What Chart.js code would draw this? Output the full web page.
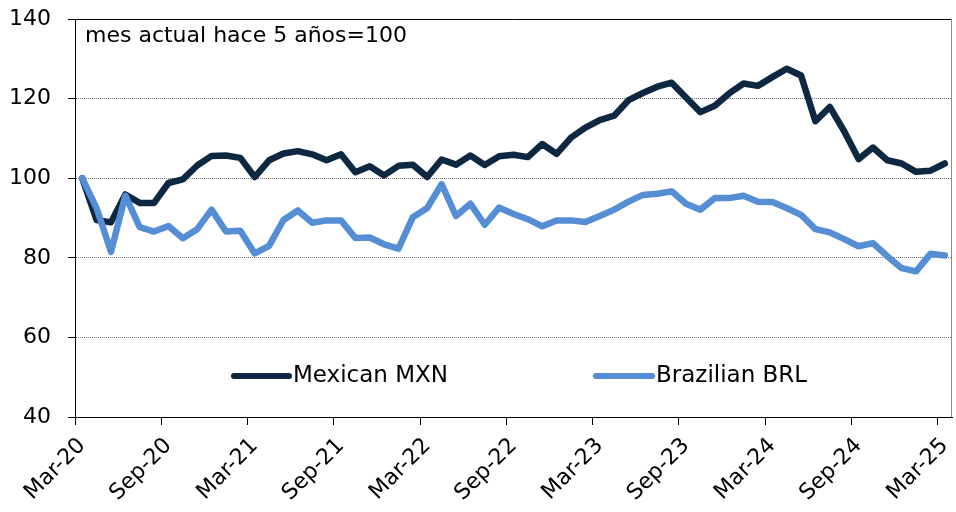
<!DOCTYPE html>
<html>
<head>
<meta charset="utf-8">
<script src="https://cdn.jsdelivr.net/npm/chart.js@4.4.1/dist/chart.umd.min.js"></script>
<style>
    html, body { margin: 0; padding: 0; background: #fff; }
    #wrap { width: 956px; height: 512px; position: relative; }
</style>
</head>
<body>
<div id="wrap"><canvas id="fxChart"></canvas></div>
<script>
// monthly categories, Mar-20 .. Mar-25
const months = [
    'Mar-20','Apr-20','May-20','Jun-20','Jul-20','Aug-20','Sep-20','Oct-20','Nov-20','Dec-20',
    'Jan-21','Feb-21','Mar-21','Apr-21','May-21','Jun-21','Jul-21','Aug-21','Sep-21','Oct-21','Nov-21','Dec-21',
    'Jan-22','Feb-22','Mar-22','Apr-22','May-22','Jun-22','Jul-22','Aug-22','Sep-22','Oct-22','Nov-22','Dec-22',
    'Jan-23','Feb-23','Mar-23','Apr-23','May-23','Jun-23','Jul-23','Aug-23','Sep-23','Oct-23','Nov-23','Dec-23',
    'Jan-24','Feb-24','Mar-24','Apr-24','May-24','Jun-24','Jul-24','Aug-24','Sep-24','Oct-24','Nov-24','Dec-24',
    'Jan-25','Feb-25','Mar-25'
];

const tickLabels = ['Mar-20','Sep-20','Mar-21','Sep-21','Mar-22','Sep-22','Mar-23','Sep-23','Mar-24','Sep-24','Mar-25'];

const mxn = [
    100, 89.5, 88.9, 95.9, 93.8, 93.8, 98.8, 99.7, 103.2, 105.6,
    105.7, 105.1, 100.3, 104.5, 106.2, 106.8, 106.0, 104.5, 106.0, 101.5,
    103.0, 100.7, 103.1, 103.4, 100.3, 104.7, 103.4, 105.7, 103.3, 105.5,
    105.9, 105.3, 108.6, 106.1, 110.2, 112.7, 114.6, 115.7, 119.6, 121.4,
    123.0, 124.0, 120.3, 116.6, 118.2, 121.3, 123.8, 123.2, 125.4, 127.5,
    125.8, 114.3, 117.9, 111.8, 104.8, 107.7, 104.5, 103.7, 101.6, 101.9,
    103.7
];

const brl = [
    100, 92.5, 81.5, 95.6, 87.7, 86.6, 88.0, 84.9, 87.2, 92.1,
    86.6, 86.8, 81.1, 83.0, 89.5, 91.9, 88.8, 89.4, 89.4, 85.0,
    85.1, 83.4, 82.3, 90.2, 92.5, 98.5, 90.5, 93.6, 88.3, 92.6,
    91.0, 89.7, 87.9, 89.4, 89.4, 89.0, 90.5, 92.1, 94.1, 95.8,
    96.1, 96.7, 93.6, 92.1, 95.0, 95.0, 95.6, 94.1, 94.0, 92.5,
    90.8, 87.2, 86.4, 84.7, 82.9, 83.7, 80.4, 77.4, 76.6, 81.0,
    80.6
];

const seriesNames = ['Mexican MXN', 'Brazilian BRL'];
const seriesColors = ['#0E2841', '#558ED5'];
const noteText = 'mes actual hace 5 años=100';

const TICK_FONT = { family: 'DejaVu Sans', size: 22 };
const NOTE_FONT = '22px "DejaVu Sans"';
const LEGEND_FONT = '23px "DejaVu Sans"';

// frame, note and in-plot legend
const frameAndNotes = {
    id: 'frameAndNotes',
    beforeDatasetsDraw(chart) {
        const { ctx, chartArea: a } = chart;
        ctx.save();
        ctx.lineWidth = 1;
        ctx.strokeStyle = '#000';
        ctx.beginPath();
        ctx.moveTo(a.left, Math.round(a.top) + 0.5);
        ctx.lineTo(a.right, Math.round(a.top) + 0.5);
        ctx.stroke();
        ctx.strokeStyle = '#8c8c8c';
        ctx.beginPath();
        ctx.moveTo(Math.round(a.right) - 0.5, a.top);
        ctx.lineTo(Math.round(a.right) - 0.5, a.bottom);
        ctx.stroke();
        ctx.restore();
    },
    afterDraw(chart) {
        const { ctx, chartArea: a } = chart;
        ctx.save();
        ctx.fillStyle = '#000';
        ctx.font = NOTE_FONT;
        ctx.textBaseline = 'alphabetic';
        ctx.fillText(noteText, a.left + 10, 42);

        const legendItems = [
            { x1: 234, x2: 289, tx: 293 },
            { x1: 596, x2: 652, tx: 656 }
        ];
        const ly = 376;
        ctx.font = LEGEND_FONT;
        chart.data.datasets.forEach((ds, i) => {
            const it = legendItems[i];
            ctx.strokeStyle = ds.borderColor;
            ctx.lineWidth = 6;
            ctx.lineCap = 'round';
            ctx.beginPath();
            ctx.moveTo(it.x1, ly);
            ctx.lineTo(it.x2, ly);
            ctx.stroke();
            ctx.fillStyle = '#000';
            ctx.textBaseline = 'middle';
            ctx.fillText(ds.label, it.tx, ly);
        });
        ctx.restore();
    }
};

new Chart(document.getElementById('fxChart'), {
    type: 'line',
    data: {
        labels: months,
        datasets: [
            {
                label: seriesNames[0],
                data: mxn,
                borderColor: seriesColors[0],
                backgroundColor: seriesColors[0],
                borderWidth: 6.5,
                pointRadius: 0,
                tension: 0,
                borderJoinStyle: 'round',
                borderCapStyle: 'round',
                order: 2
            },
            {
                label: seriesNames[1],
                data: brl,
                borderColor: seriesColors[1],
                backgroundColor: seriesColors[1],
                borderWidth: 6.5,
                pointRadius: 0,
                tension: 0,
                borderJoinStyle: 'round',
                borderCapStyle: 'round',
                order: 1
            }
        ]
    },
    options: {
        responsive: true,
        maintainAspectRatio: false,
        animation: false,
        layout: { padding: { top: 19, right: 4, left: 0, bottom: 0 } },
        plugins: {
            legend: { display: false },
            tooltip: { enabled: false }
        },
        scales: {
            x: {
                type: 'category',
                offset: true,
                grid: {
                    offset: true,
                    drawOnChartArea: false,
                    tickLength: 8,
                    tickWidth: 1,
                    tickColor: ctx => tickLabels.includes(months[ctx.index]) ? '#000' : 'rgba(0,0,0,0)'
                },
                border: { color: '#000', width: 1 },
                ticks: {
                    autoSkip: false,
                    maxRotation: 45,
                    minRotation: 45,
                    padding: 8,
                    color: '#000',
                    font: TICK_FONT,
                    callback: (v, i) => tickLabels.includes(months[i]) ? months[i] : ''
                },
                afterFit: scale => {
                    scale.height = 95;
                    scale.paddingLeft = 0;
                    scale.paddingRight = 0;
                }
            },
            y: {
                min: 40,
                max: 140,
                grid: {
                    color: ctx => ctx.tick && ctx.tick.value === 140 ? 'rgba(0,0,0,0)' : '#6e6e6e',
                    lineWidth: 1,
                    tickLength: 7,
                    tickColor: '#000',
                    tickBorderDash: []
                },
                border: { color: '#000', width: 1, dash: [1, 1] },
                ticks: {
                    stepSize: 20,
                    padding: 17,
                    color: '#000',
                    font: TICK_FONT
                },
                afterFit: scale => {
                    scale.width = 75;
                    scale.paddingTop = 0;
                    scale.paddingBottom = 0;
                }
            }
        }
    },
    plugins: [frameAndNotes]
});
</script>
</body>
</html>
